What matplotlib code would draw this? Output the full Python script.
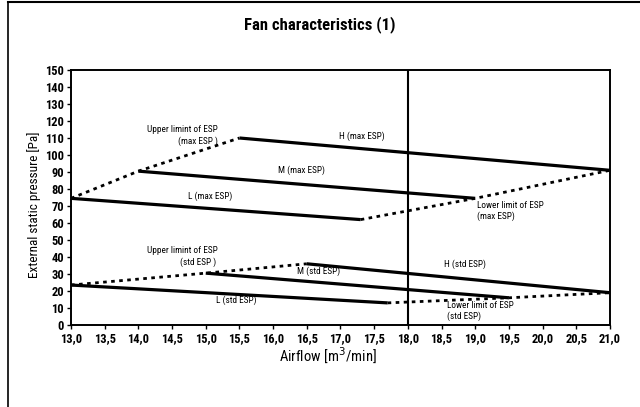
import matplotlib
matplotlib.use("Agg")
import matplotlib.pyplot as plt
from matplotlib.lines import Line2D

plt.rcParams['font.family'] = ['Roboto Condensed', 'Liberation Sans', 'DejaVu Sans']

# Solid fan curves (airflow, pressure)
h_max_x = [15.5, 21.0]
h_max_y = [110, 91]
m_max_x = [14.0, 19.0]
m_max_y = [90.5, 74.5]
l_max_x = [13.0, 17.3]
l_max_y = [74.5, 62]

h_std_x = [16.5, 21.0]
h_std_y = [36, 19]
m_std_x = [15.0, 19.5]
m_std_y = [30.5, 16]
l_std_x = [13.0, 17.7]
l_std_y = [23.5, 13]

# Dotted limit lines
upper_max_x = [13.0, 14.0, 15.5]
upper_max_y = [74.5, 90.5, 110]
lower_max_x = [17.3, 19.0, 21.0]
lower_max_y = [62, 74.5, 91]
upper_std_x = [13.0, 15.0, 16.5]
upper_std_y = [23.5, 30.5, 36]
lower_std_x = [17.7, 19.5, 21.0]
lower_std_y = [13, 16, 19]

x_ticks = [13.0 + 0.5 * i for i in range(17)]
x_tick_labels = [f"{v:.1f}".replace('.', ',') for v in x_ticks]
y_ticks = list(range(0, 151, 10))

fig = plt.figure(figsize=(6.4, 4.07), dpi=100)
ax = fig.add_axes([0.111, 0.2015, 0.842, 0.6265])

solid_kw = dict(color='black', lw=2.3, solid_capstyle='butt')
dot_kw = dict(color='black', lw=2.0, linestyle=(0, (1.3, 1.6)))

for xs, ys in [(h_max_x, h_max_y), (m_max_x, m_max_y), (l_max_x, l_max_y),
               (h_std_x, h_std_y), (m_std_x, m_std_y), (l_std_x, l_std_y)]:
    ax.plot(xs, ys, **solid_kw)
for xs, ys in [(upper_max_x, upper_max_y), (lower_max_x, lower_max_y),
               (upper_std_x, upper_std_y), (lower_std_x, lower_std_y)]:
    ax.plot(xs, ys, **dot_kw)

ax.axvline(18.0, color='black', lw=1.5)

ax.set_xlim(13.0, 21.0)
ax.set_ylim(0, 150)
ax.set_xticks(x_ticks)
ax.set_xticklabels(x_tick_labels, fontweight='bold', fontsize=9)
ax.set_yticks(y_ticks)
ax.set_yticklabels([str(v) for v in y_ticks], fontweight='bold', fontsize=9)
ax.tick_params(axis='both', direction='out', length=3, width=1, pad=2)
for sp in ax.spines.values():
    sp.set_linewidth(1.4)

ax.set_xlabel('Airflow [m$^3$/min]', fontsize=10.5, labelpad=0)
ax.set_ylabel('External static pressure [Pa]', fontsize=9.5, labelpad=3)
ax.xaxis.label.set_x(0.476)
ax.yaxis.label.set_y(0.4725)

fs = 6.7
ax.text(14.65, 115.2, 'Upper limint of ESP', fontsize=fs, ha='center', va='center')
ax.text(14.88, 108, '(max ESP )', fontsize=fs, ha='center', va='center')
ax.text(17.32, 111, 'H (max ESP)', fontsize=fs, ha='center', va='center')
ax.text(16.42, 91.2, 'M (max ESP)', fontsize=fs, ha='center', va='center')
ax.text(15.07, 75.9, 'L (max ESP)', fontsize=fs, ha='center', va='center')
ax.text(19.03, 70.3, 'Lower limit of ESP', fontsize=fs, ha='left', va='center')
ax.text(19.03, 63.8, '(max ESP)', fontsize=fs, ha='left', va='center')
ax.text(14.65, 43.6, 'Upper limint of ESP', fontsize=fs, ha='center', va='center')
ax.text(14.88, 37.2, '(std ESP )', fontsize=fs, ha='center', va='center')
ax.text(16.67, 31.8, 'M (std ESP)', fontsize=fs, ha='center', va='center')
ax.text(18.85, 35.9, 'H (std ESP)', fontsize=fs, ha='center', va='center')
ax.text(15.45, 14.7, 'L (std ESP)', fontsize=fs, ha='center', va='center')
ax.text(18.58, 11.5, 'Lower limit of ESP', fontsize=fs, ha='left', va='center')
ax.text(18.58, 5.0, '(std ESP)', fontsize=fs, ha='left', va='center')

fig.text(0.5, 0.939, 'Fan characteristics (1)', fontsize=12, fontweight='bold', ha='center', va='center')

# outer frame (left and top edges visible)
fig.add_artist(Line2D([0.0125, 0.0125], [0.0, 0.995], transform=fig.transFigure, color='black', lw=1.2))
fig.add_artist(Line2D([0.0125, 1.0], [0.995, 0.995], transform=fig.transFigure, color='black', lw=1.5))

fig.savefig('out.png', dpi=100)
